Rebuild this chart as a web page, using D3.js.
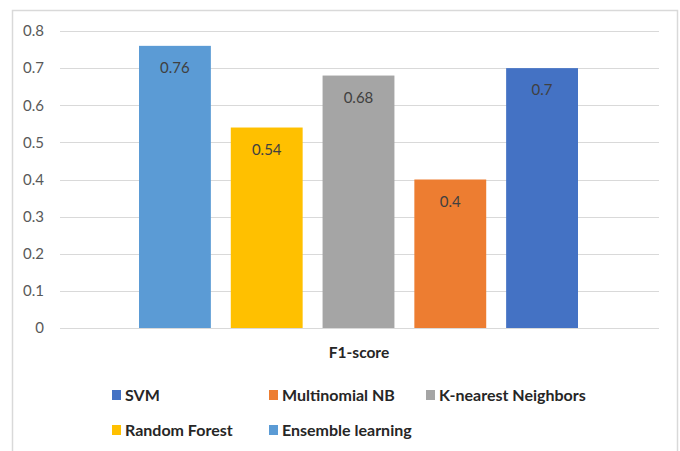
<!DOCTYPE html>
<html>
<head>
<meta charset="utf-8">
<script src="https://cdn.jsdelivr.net/npm/d3@7"></script>
<style>
  html, body { margin: 0; padding: 0; background: #fff; }
  svg { display: block; font-family: Lato, "Liberation Sans", sans-serif; }
</style>
</head>
<body>
<svg id="chart" width="680" height="451"></svg>
<script>
// F1-score per classifier
const models = ["Ensemble learning", "Random Forest", "K-nearest Neighbors", "Multinomial NB", "SVM"];
const f1Scores = [0.76, 0.54, 0.68, 0.4, 0.7];
const colors = ["#5B9BD5", "#FFC000", "#A5A5A5", "#ED7D31", "#4472C4"];
const yTicks = [0, 0.1, 0.2, 0.3, 0.4, 0.5, 0.6, 0.7, 0.8];
const legendOrder = ["SVM", "Multinomial NB", "K-nearest Neighbors", "Random Forest", "Ensemble learning"];
const categoryLabel = "F1-score";

const svg = d3.select("#chart");

// chart frame
svg.append("path")
  .attr("d", "M12.5,451 V10.5 H677.5 V451")
  .attr("fill", "none")
  .attr("stroke", "#D9D9D9")
  .attr("stroke-width", 1.5);

const plot = { left: 60, right: 659, top: 31, bottom: 328 };

const y = d3.scaleLinear().domain([0, 0.8]).range([plot.bottom, plot.top]);
const x = d3.scaleBand().domain(models)
  .range([plot.left + 79, plot.right - 81])
  .paddingInner(0.217);

// gridlines
svg.append("g")
  .selectAll("line")
  .data(yTicks)
  .join("line")
  .attr("x1", plot.left).attr("x2", plot.right)
  .attr("y1", d => Math.round(y(d)) + 0.5)
  .attr("y2", d => Math.round(y(d)) + 0.5)
  .attr("stroke", "#D9D9D9")
  .attr("stroke-width", 1.2);

// y axis labels
const yAxis = d3.axisLeft(y).tickValues(yTicks).tickSize(0).tickPadding(0)
  .tickFormat(d => d === 0 ? "0" : d3.format(".1f")(d));
svg.append("g")
  .attr("transform", `translate(44,0)`)
  .call(yAxis)
  .call(g => g.select(".domain").remove())
  .call(g => g.selectAll("text")
    .attr("fill", "#595959")
    .style("font-size", "15px")
    .style("font-family", "Lato, sans-serif"));

// bars
svg.append("g")
  .selectAll("rect")
  .data(models)
  .join("rect")
  .attr("x", d => x(d))
  .attr("width", x.bandwidth())
  .attr("y", (d, i) => y(f1Scores[i]))
  .attr("height", (d, i) => y(0) - y(f1Scores[i]))
  .attr("fill", (d, i) => colors[i]);

// value labels inside bar tops
svg.append("g")
  .selectAll("text")
  .data(models)
  .join("text")
  .attr("x", d => x(d) + x.bandwidth() / 2)
  .attr("y", (d, i) => y(f1Scores[i]) + 27)
  .attr("text-anchor", "middle")
  .attr("fill", "#404040")
  .style("font-size", "15px")
  .text((d, i) => String(f1Scores[i]));

// category label
svg.append("text")
  .attr("x", 359)
  .attr("y", 358)
  .attr("text-anchor", "middle")
  .attr("fill", "#262626")
  .style("font-size", "15.5px")
  .style("font-weight", "bold")
  .text(categoryLabel);

// legend
const legendPos = [
  { x: 112, y: 395 }, { x: 269, y: 395 }, { x: 426, y: 395 },
  { x: 112, y: 430 }, { x: 269, y: 430 }
];
const legend = svg.append("g")
  .selectAll("g")
  .data(legendOrder)
  .join("g")
  .attr("transform", (d, i) => `translate(${legendPos[i].x},${legendPos[i].y})`);
legend.append("rect")
  .attr("x", 0).attr("y", -5)
  .attr("width", 9).attr("height", 10)
  .attr("fill", d => colors[models.indexOf(d)]);
legend.append("text")
  .attr("x", 13)
  .attr("y", 6)
  .attr("fill", "#262626")
  .style("font-size", "16px")
  .style("font-weight", "bold")
  .text(d => d);
</script>
</body>
</html>
